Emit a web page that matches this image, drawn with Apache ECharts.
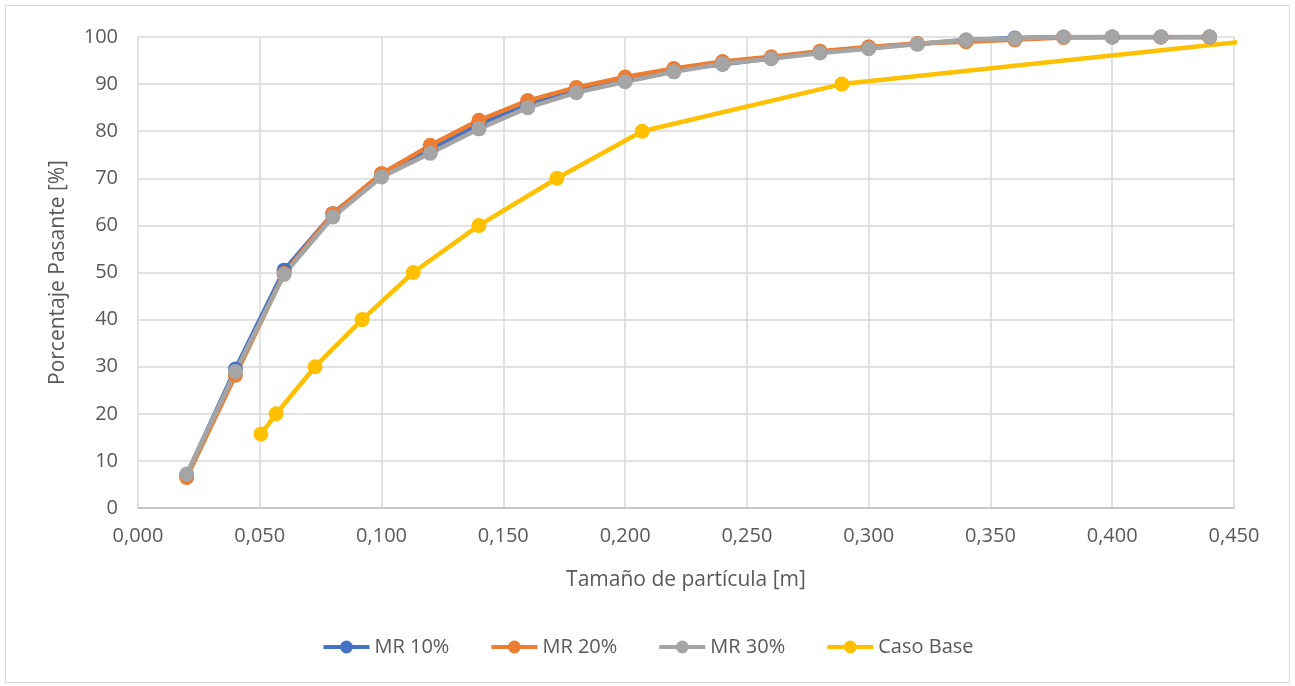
<!DOCTYPE html>
<html>
<head>
<meta charset="utf-8">
<script src="https://cdn.jsdelivr.net/npm/echarts@6/dist/echarts.min.js"></script>
<style>
  html, body { margin: 0; padding: 0; background: #fff; }
  #chart { width: 1295px; height: 686px; box-sizing: border-box; }
  #frame { position: absolute; left: 5px; top: 5px; width: 1283px; height: 676px; border: 1px solid #D9D9D9; pointer-events: none; }
</style>
</head>
<body>
<div id="chart"></div>
<div id="frame"></div>
<script>
  // tamaños de particula [m]
  var sizesMR = [0.02, 0.04, 0.06, 0.08, 0.10, 0.12, 0.14, 0.16, 0.18, 0.20, 0.22,
                 0.24, 0.26, 0.28, 0.30, 0.32, 0.34, 0.36, 0.38, 0.40, 0.42, 0.44];
  var mr10 = [7.0, 29.5, 50.5, 62.5, 70.8, 76.0, 81.5, 85.8, 88.8, 91.0, 93.0,
              94.2, 95.5, 96.8, 97.8, 98.5, 99.3, 99.8, 100, 100, 100, 100];
  var mr20 = [6.5, 28.2, 49.8, 62.5, 71.0, 77.0, 82.3, 86.5, 89.3, 91.5, 93.3,
              94.8, 95.8, 97.0, 97.9, 98.6, 99.0, 99.4, 99.9, 100, 100, 100];
  var mr30 = [7.2, 29.0, 49.6, 61.8, 70.3, 75.3, 80.5, 85.0, 88.2, 90.5, 92.6,
              94.3, 95.4, 96.6, 97.5, 98.5, 99.4, 99.7, 100, 100, 100, 100];
  var sizesBase = [0.0505, 0.0567, 0.0727, 0.092, 0.113, 0.140, 0.172, 0.207, 0.289, 0.472];
  var casoBase = [15.7, 20, 30, 40, 50, 60, 70, 80, 90, 100];

  function pairs(xs, ys){
    var out = [];
    for(var i = 0; i < xs.length; i++){ out.push([xs[i], ys[i]]); }
    return out;
  }

  var font = '"Open Sans", sans-serif';
  var txt = '#595959';

  function serie(name, color, data){
    return {
      name: name,
      type: 'line',
      data: data,
      symbol: 'circle',
      symbolSize: 15,
      clip: true,
      lineStyle: { color: color, width: 4.5 },
      itemStyle: { color: color },
      emphasis: { disabled: true }
    };
  }

  var chartsOption = {
    animation: false,
    color: ['#4472C4', '#ED7D31', '#A5A5A5', '#FFC000'],
    grid: { left: 138, right: 61, top: 37, bottom: 178 },
    legend: {
      bottom: 24,
      left: 'center',
      itemWidth: 46,
      itemHeight: 16,
      itemGap: 40,
      lineStyle: { width: 4 },
      textStyle: { color: txt, fontSize: 20, fontFamily: font },
      data: ['MR 10%', 'MR 20%', 'MR 30%', 'Caso Base']
    },
    xAxis: {
      type: 'value',
      min: 0,
      max: 0.45,
      interval: 0.05,
      name: 'Tamaño de partícula [m]',
      nameLocation: 'middle',
      nameGap: 62,
      nameTextStyle: { color: txt, fontSize: 21, fontFamily: font },
      axisLine: { show: true, lineStyle: { color: '#BFBFBF', width: 1.5 } },
      axisTick: { show: false },
      axisLabel: {
        color: txt, fontSize: 20, fontFamily: font, margin: 18,
        formatter: function(v){ return v.toFixed(3).replace('.', ','); }
      },
      splitLine: { show: true, lineStyle: { color: '#D9D9D9', width: 1.5 } }
    },
    yAxis: {
      type: 'value',
      min: 0,
      max: 100,
      interval: 10,
      name: 'Porcentaje Pasante [%]',
      nameLocation: 'middle',
      nameGap: 69,
      nameTextStyle: { color: txt, fontSize: 21, fontFamily: font },
      axisLine: { show: false },
      axisTick: { show: false },
      axisLabel: { color: txt, fontSize: 20, fontFamily: font, margin: 20 },
      splitLine: { show: true, lineStyle: { color: '#D9D9D9', width: 1.5 } }
    },
    series: [
      serie('MR 10%', '#4472C4', pairs(sizesMR, mr10)),
      serie('MR 20%', '#ED7D31', pairs(sizesMR, mr20)),
      serie('MR 30%', '#A5A5A5', pairs(sizesMR, mr30)),
      serie('Caso Base', '#FFC000', pairs(sizesBase, casoBase))
    ]
  };

  var myChart = echarts.init(document.getElementById('chart'));
  chartsOption && myChart.setOption(chartsOption, true);
</script>
</body>
</html>
